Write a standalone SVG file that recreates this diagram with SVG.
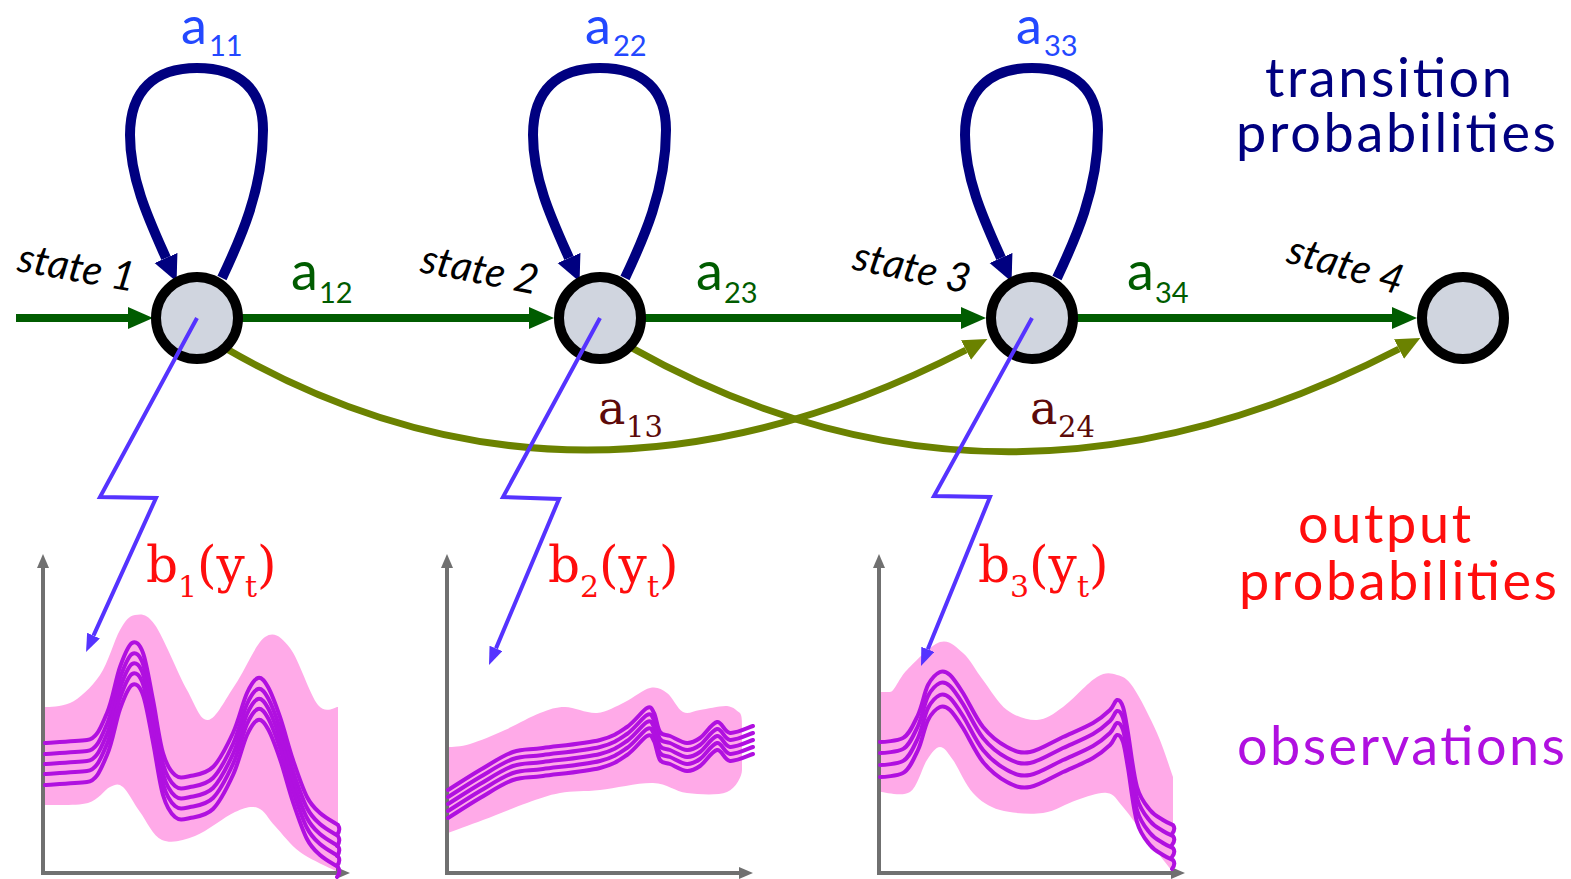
<svg xmlns="http://www.w3.org/2000/svg" width="1571" height="879" viewBox="0 0 1571 879">
<style>
.node{fill:#d0d5df;stroke:#000;stroke-width:10}
.trans{fill:none;stroke:#005c00;stroke-width:8}
.loop{fill:none;stroke:#000080;stroke-width:10}
.skip{fill:none;stroke:#6b8200;stroke-width:7}
.out{fill:none;stroke:#5533ff;stroke-width:4;stroke-linejoin:miter}
.axis{fill:none;stroke:#707070;stroke-width:4}
.band{fill:#ffaae8}
.sans{font-family:Lato,"Liberation Sans",sans-serif}
.serif{font-family:"DejaVu Serif","Liberation Serif",serif}
.state{font-family:Lato,"Liberation Sans",sans-serif;font-size:41px;font-style:italic;fill:#000}
.title{font-family:Lato,"Liberation Sans",sans-serif;font-size:54px}
</style>
<defs>
<marker id="mG" markerUnits="userSpaceOnUse" markerWidth="26" markerHeight="24" refX="0" refY="11" orient="auto"><path d="M0,0 L25,11 L0,22 z" fill="#005c00"/></marker>
<marker id="mN" markerUnits="userSpaceOnUse" markerWidth="28" markerHeight="26" refX="0" refY="12.5" orient="auto"><path d="M0,0 L26,12.5 L0,25 z" fill="#000080"/></marker>
<marker id="mO" markerUnits="userSpaceOnUse" markerWidth="26" markerHeight="24" refX="0" refY="11" orient="auto"><path d="M0,0 L24,11 L0,22 z" fill="#6b8200"/></marker>
<marker id="mB" markerUnits="userSpaceOnUse" markerWidth="20" markerHeight="16" refX="0" refY="7" orient="auto"><path d="M0,0 L18,7 L0,14 z" fill="#5533ff"/></marker>
<marker id="mA" markerUnits="userSpaceOnUse" markerWidth="16" markerHeight="14" refX="0" refY="6" orient="auto"><path d="M0,0 L14,6 L0,12 z" fill="#707070"/></marker>
<path id="l1" fill="none" stroke="#b010e0" stroke-width="4" stroke-linecap="round" stroke-linejoin="round" d="M45,743 C52,742.5 76.7,741 87,740 S101.5,725.2 107,713 S115.8,678.7 120,667 S128.2,645.3 132,643 S139.5,643.5 143,653 S149.7,683.3 153,700 S159.3,740.5 163,753 S170.5,771.2 175,775 S183.7,777.3 190,776 S205.8,774.2 213,767 S227.3,745.3 233,733 S242.8,702.2 247,693 S254.5,679 258,678 S264.3,680.5 268,687 S275.8,704.8 280,717 S288.5,746.7 293,760 S302.5,788.2 307,797 S314.8,808.3 320,813 S335,823 338,825 q3,5 -1,10"/>
<path id="l2" fill="none" stroke="#b010e0" stroke-width="4" stroke-linecap="round" stroke-linejoin="round" d="M448,790 C453,787 469.2,776.3 480,770 S502.5,755.7 513,752 S528.5,750 543,748 S586,743.5 600,740 S619.2,732.3 627,727 S642.5,710.3 647,708 S651.8,709 654,713 S657.3,728.2 660,732 S665.5,734.2 670,736 S682,742.7 687,743 S695,741.5 700,738 S712,722.8 717,722 S724,732.3 730,733 S749.2,727.2 753,726"/>
<path id="l3" fill="none" stroke="#b010e0" stroke-width="4" stroke-linecap="round" stroke-linejoin="round" d="M880,742 C884,742 896.7,741 903,738 S913.8,723.8 918,715 S924.3,692.2 928,685 S936.3,673.7 940,672 S946.2,671.5 950,675 S957.5,684.3 963,693 S975.7,718 983,727 S999.2,742.8 1007,747 S1020.7,753.7 1030,752 S1052.5,741.8 1063,737 S1085.2,727.5 1093,723 S1106,713.8 1110,710 S1114.8,700.5 1117,700 S1121.2,701.5 1123,707 S1125.7,719.7 1128,733 S1133.3,774.2 1137,787 S1145.7,804.5 1150,810 S1159.2,817.5 1163,820 S1171.3,824.2 1173,825 q3,4 -1,9"/>
</defs>

<!-- observation plots -->
<g id="plot1">
<path class="band" d="M45,707 C49,707 60.8,707 70,703 S91.7,687.2 100,675 S114.2,640 120,630 S129.2,615.8 135,615 S146.3,612.5 155,625 S178.2,674.2 187,690 S200,720.8 208,720 S225.5,698.8 235,685 S255.8,643.2 265,637 S281.2,636.7 290,648 S310,695.2 318,705 S334.7,706.7 338,707 L338,872 C331.7,868.7 310.5,859.7 300,852 S282,833.3 275,826 S264.7,810.3 258,808 S245.5,807.3 235,812 S207.2,831.3 195,836 S171.2,844 162,840 S146.5,820.8 140,812 S128,791.2 123,787 S115.8,784.3 110,787 S98.8,800 88,803 S52.2,804.7 45,805 Z"/>
<path class="axis" d="M43,873 V568" marker-end="url(#mA)"/>
<path class="axis" d="M41,873 H336" marker-end="url(#mA)"/>
<use href="#l1"/>
<use href="#l1" transform="translate(0,11)"/>
<use href="#l1" transform="translate(0,21)"/>
<use href="#l1" transform="translate(0,31)"/>
<use href="#l1" transform="translate(0,42)"/>
</g>
<g id="plot2">
<path class="band" d="M448,747 C452,747 460.5,746.8 470,744 S493.3,735.2 505,730 S530,716.8 540,713 S555.5,707 565,707 S587,713.8 597,713 S616.2,706.2 625,702 S643,689.5 650,688 S661.5,689 667,693 S677.5,709.2 683,712 S692.7,711 700,710 S720.3,705.5 727,706 S737.8,711.8 740,713 C742,716 742,720 742,730 L742,770 C742,776 736.2,788.2 727,792 S699.3,794.5 687,793 S667.5,783.5 653,783 S615.5,788.3 600,790 S572.2,790.8 560,793 S539.8,798.5 527,803 S496.2,815 483,820 S453.8,830.8 448,833 Z"/>
<path class="axis" d="M447,873 V568" marker-end="url(#mA)"/>
<path class="axis" d="M445,873 H739" marker-end="url(#mA)"/>
<use href="#l2"/>
<use href="#l2" transform="translate(0,7)"/>
<use href="#l2" transform="translate(0,14)"/>
<use href="#l2" transform="translate(0,21)"/>
<use href="#l2" transform="translate(0,28)"/>
</g>
<g id="plot3">
<path class="band" d="M880,692 C882,692 885.5,692 890,692 S898.7,678.3 907,670 S930.7,644.8 940,642 S955.8,646.7 963,653 S975.7,670.5 983,680 S998,703.3 1007,710 S1027.7,720.5 1037,720 S1053,714.2 1063,707 S1088,682.3 1097,677 S1111,673.3 1117,675 S1126.3,677.3 1133,687 S1150.3,718 1157,733 S1170.3,769.7 1173,777 L1173,872 C1169,867 1158.3,853.8 1150,843 S1130.2,815.3 1123,807 S1114.7,794.2 1107,793 S1087.7,796.7 1077,800 S1055.8,811.3 1043,813 S1011.7,813.3 1000,810 S980.8,801.3 973,793 S958.5,767.7 953,760 S944.3,747 940,747 S932,752.5 927,760 S917.8,786.7 910,792 S885,792 880,792 Z"/>
<path class="axis" d="M879,873 V568" marker-end="url(#mA)"/>
<path class="axis" d="M877,873 H1171" marker-end="url(#mA)"/>
<use href="#l3"/>
<use href="#l3" transform="translate(0,11)"/>
<use href="#l3" transform="translate(0,23)"/>
<use href="#l3" transform="translate(0,35)"/>
</g>

<!-- connectors -->
<g id="connectors">
<path class="skip" d="M225,348 Q575,551 966,350" marker-end="url(#mO)"/>
<path class="skip" d="M632,348 Q1000,555 1399,349" marker-end="url(#mO)"/>
<path class="trans" d="M16,318 H128" marker-end="url(#mG)"/>
<path class="trans" d="M240,318 H529" marker-end="url(#mG)"/>
<path class="trans" d="M643,318 H961" marker-end="url(#mG)"/>
<path class="trans" d="M1075,318 H1392" marker-end="url(#mG)"/>
<path class="loop" d="M222,278 C240,240 263,190 263,130 C263,90 240,68 197,68 C155,68 130,90 130,135 C130,180 150,222 166,258" marker-end="url(#mN)"/>
<path class="loop" transform="translate(403,0)" d="M222,278 C240,240 263,190 263,130 C263,90 240,68 197,68 C155,68 130,90 130,135 C130,180 150,222 166,258" marker-end="url(#mN)"/>
<path class="loop" transform="translate(835,0)" d="M222,278 C240,240 263,190 263,130 C263,90 240,68 197,68 C155,68 130,90 130,135 C130,180 150,222 166,258" marker-end="url(#mN)"/>
</g>

<!-- nodes -->
<g id="state1"><circle class="node" cx="197" cy="318" r="41"/><text class="state" transform="translate(16,271) rotate(10)">state 1</text></g>
<g id="state2"><circle class="node" cx="600" cy="318" r="41"/><text class="state" transform="translate(419,272) rotate(11)">state 2</text></g>
<g id="state3"><circle class="node" cx="1032" cy="318" r="41"/><text class="state" transform="translate(851,269) rotate(12)">state 3</text></g>
<g id="state4"><circle class="node" cx="1463" cy="318" r="41"/><text class="state" transform="translate(1285,262) rotate(16)">state 4</text></g>

<!-- output links -->
<g id="output-links">
<path class="out" d="M197,318 L100,497 L156,498 L93.5,635.6" marker-end="url(#mB)"/>
<path class="out" d="M600,318 L503,497 L559,499 L496,648.4" marker-end="url(#mB)"/>
<path class="out" d="M1032,318 L934,496 L990,497 L927.8,649.3" marker-end="url(#mB)"/>
</g>

<!-- transition labels -->
<g id="labels" class="sans">
<text fill="#2348ff" font-size="52"><tspan x="181" y="44">a</tspan><tspan x="209" y="56" font-size="29">11</tspan></text>
<text fill="#2348ff" font-size="52"><tspan x="585" y="44">a</tspan><tspan x="613" y="56" font-size="29">22</tspan></text>
<text fill="#2348ff" font-size="52"><tspan x="1016" y="44">a</tspan><tspan x="1044" y="56" font-size="29">33</tspan></text>
<text fill="#005c00" font-size="54"><tspan x="291" y="290">a</tspan><tspan x="319" y="303" font-size="29">12</tspan></text>
<text fill="#005c00" font-size="54"><tspan x="696" y="290">a</tspan><tspan x="724" y="303" font-size="29">23</tspan></text>
<text fill="#005c00" font-size="54"><tspan x="1127" y="290">a</tspan><tspan x="1155" y="303" font-size="29">34</tspan></text>
</g>
<g id="skip-labels" class="serif">
<text fill="#5c0a0a" font-size="46"><tspan x="598" y="424">a</tspan><tspan x="626" y="437" font-size="29">13</tspan></text>
<text fill="#5c0a0a" font-size="46"><tspan x="1030" y="424">a</tspan><tspan x="1058" y="437" font-size="29">24</tspan></text>
</g>
<g id="output-labels" class="serif" fill="#ff0d0d">
<text x="146" y="582" font-size="50">b<tspan dy="15" font-size="30">1</tspan><tspan dy="-15">(y</tspan><tspan dy="15" font-size="30">t</tspan><tspan dy="-15">)</tspan></text>
<text x="548" y="582" font-size="50">b<tspan dy="15" font-size="30">2</tspan><tspan dy="-15">(y</tspan><tspan dy="15" font-size="30">t</tspan><tspan dy="-15">)</tspan></text>
<text x="978" y="582" font-size="50">b<tspan dy="15" font-size="30">3</tspan><tspan dy="-15">(y</tspan><tspan dy="15" font-size="30">t</tspan><tspan dy="-15">)</tspan></text>
</g>

<!-- legend titles -->
<g id="legend">
<text class="title" fill="#000080" x="1265" y="97" textLength="247">transition</text>
<text class="title" fill="#000080" x="1236" y="152" textLength="320">probabilities</text>
<text class="title" fill="#ff0d0d" x="1298" y="543" textLength="173">output</text>
<text class="title" fill="#ff0d0d" x="1239" y="600" textLength="318">probabilities</text>
<text class="title" fill="#b010e0" x="1237" y="765" textLength="328">observations</text>
</g>
</svg>
